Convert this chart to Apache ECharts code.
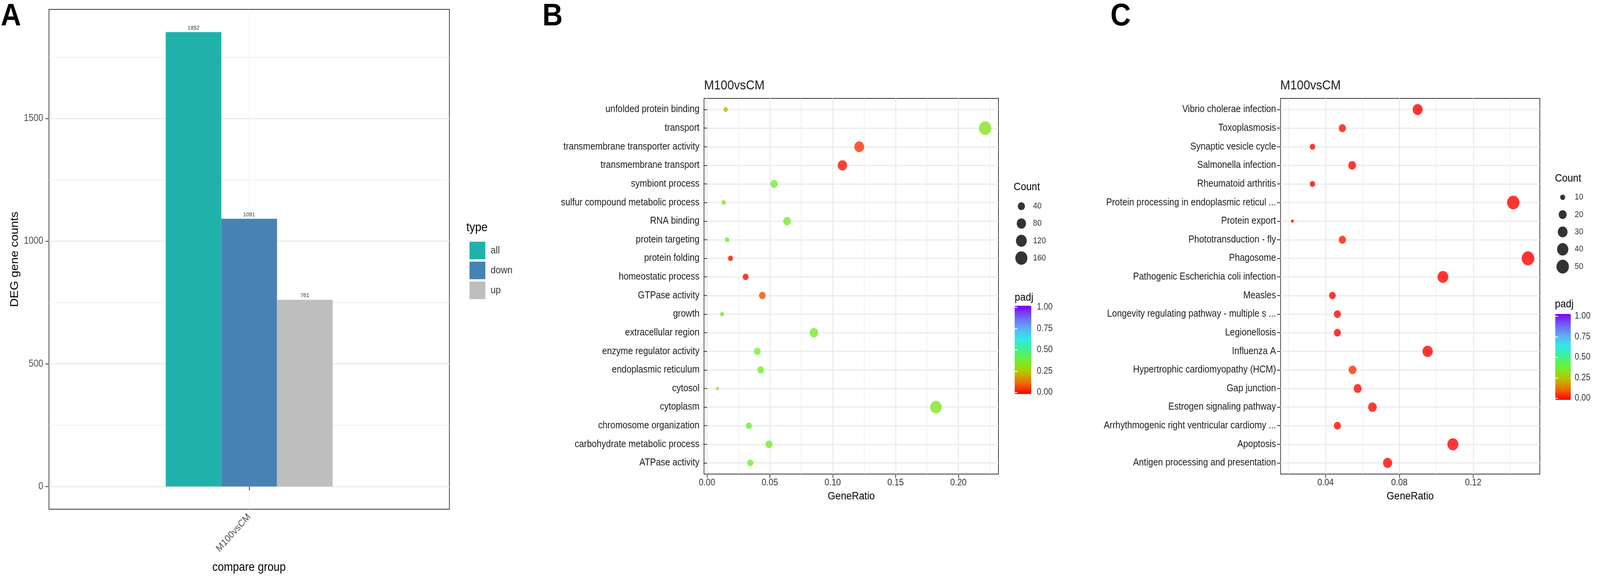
<!DOCTYPE html>
<html lang="en">
<head>
<meta charset="UTF-8">
<script src="https://cdn.jsdelivr.net/npm/echarts@6/dist/echarts.min.js"></script>
<style>
    html, body { margin: 0; padding: 0; background: #fff; overflow: hidden; }
    #main { width: 4543px; height: 1493px; transform-origin: 0 0; }
</style>
</head>
<body>
<div id="main"></div>
<script type="text/javascript">

    // ---- panel A : DEG counts ----
    const groups = ['M100vsCM'];
    const degTypes = ['all', 'down', 'up'];
    const degCounts = [1852, 1091, 761];
    const degColors = ['#20b2aa', '#4682b4', '#bebebe'];
    const degTicks = [0, 500, 1000, 1500];
    const degMinor = [250, 750, 1250, 1750];

    // ---- panel B : GO enrichment (top to bottom) ----
    const goTerms = ['unfolded protein binding', 'transport', 'transmembrane transporter activity',
        'transmembrane transport', 'symbiont process', 'sulfur compound metabolic process', 'RNA binding',
        'protein targeting', 'protein folding', 'homeostatic process', 'GTPase activity', 'growth',
        'extracellular region', 'enzyme regulator activity', 'endoplasmic reticulum', 'cytosol',
        'cytoplasm', 'chromosome organization', 'carbohydrate metabolic process', 'ATPase activity'];
    const goRatio = [0.0149, 0.2212, 0.1211, 0.1077, 0.0533, 0.0133, 0.0637, 0.0160, 0.0187, 0.0307,
        0.0440, 0.0120, 0.0851, 0.0400, 0.0427, 0.0083, 0.1821, 0.0333, 0.0493, 0.0344];
    const goCount = [11, 168, 92, 82, 41, 10, 48, 12, 14, 23, 33, 9, 65, 30, 32, 6, 138, 25, 37, 26];
    const goPadj = [0.23, 0.34, 0.06, 0.02, 0.38, 0.36, 0.36, 0.37, 0.01, 0.015, 0.09, 0.37, 0.36, 0.38,
        0.37, 0.33, 0.34, 0.38, 0.36, 0.38];
    const goTicks = [0, 0.05, 0.10, 0.15, 0.20];
    const goMinor = [0.025, 0.075, 0.125, 0.175, 0.225];
    const goSizeBreaks = [40, 80, 120, 160];

    // ---- panel C : KEGG enrichment (top to bottom) ----
    const keggTerms = ['Vibrio cholerae infection', 'Toxoplasmosis', 'Synaptic vesicle cycle',
        'Salmonella infection', 'Rheumatoid arthritis', 'Protein processing in endoplasmic reticul ...',
        'Protein export', 'Phototransduction - fly', 'Phagosome', 'Pathogenic Escherichia coli infection',
        'Measles', 'Longevity regulating pathway - multiple s ...', 'Legionellosis', 'Influenza A',
        'Hypertrophic cardiomyopathy (HCM)', 'Gap junction', 'Estrogen signaling pathway',
        'Arrhythmogenic right ventricular cardiomy ...', 'Apoptosis', 'Antigen processing and presentation'];
    const keggRatio = [0.0899, 0.0491, 0.0329, 0.0544, 0.0329, 0.1417, 0.0220, 0.0491, 0.1497, 0.1036,
        0.0437, 0.0464, 0.0464, 0.0953, 0.0546, 0.0574, 0.0654, 0.0464, 0.1090, 0.0736];
    const keggCount = [31, 17, 11, 19, 11, 49, 8, 17, 52, 36, 15, 16, 16, 33, 19, 20, 23, 16, 38, 26];
    const keggPadj = [0.002, 0.02, 0.01, 0.01, 0.005, 0.001, 0.01, 0.03, 0.001, 0.003, 0.01, 0.01, 0.01,
        0.005, 0.06, 0.015, 0.015, 0.01, 0.005, 0.01];
    const keggTicks = [0.04, 0.08, 0.12];
    const keggMinor = [0.02, 0.06, 0.10, 0.14];
    const keggSizeBreaks = [10, 20, 30, 40, 50];

    const padjColors = ['#ff0000', '#f26b00', '#b3c800', '#70f030', '#40f08a', '#30eaea', '#60aaf5', '#7060f5', '#8000ff'];

    const FONT = '"Liberation Sans", Arial, Helvetica, sans-serif';

    // the layout is drawn at 4543 wide; squeeze it if the window is narrower
    const box = document.getElementById('main');
    const sx = Math.min(1, window.innerWidth / 4543);
    if (sx < 1) {
        box.style.transform = 'scaleX(' + sx + ')';
    }

    // ggplot style 5% expansion
    function padRange(vals) {
        let lo = Math.min.apply(null, vals), hi = Math.max.apply(null, vals), r = hi - lo;
        return [lo - 0.05 * r, hi + 0.05 * r];
    }

    // area scale like scale_size
    function sizeScale(counts, dMin, dMax) {
        let lo = Math.min.apply(null, counts), hi = Math.max.apply(null, counts);
        return function (c) {
            return dMin + (dMax - dMin) * Math.sqrt(Math.max(0, (c - lo) / (hi - lo)));
        };
    }

    const degRange = padRange([0].concat(degCounts));
    const goRange = padRange(goRatio);
    const keggRange = padRange(keggRatio);
    const goSize = sizeScale(goCount, 8, 35);
    const keggSize = sizeScale(keggCount, 8, 36);
    const rows = goTerms.map(function (d, i) { return i + 1; });

    const tickStyle = {show: true, length: 10, lineStyle: {color: '#333', width: 2}};
    const noLine = {show: false};

    function gridLines(w) {
        return {show: true, lineStyle: {color: '#ebebeb', width: w}};
    }

    // value axis that only draws minor grid lines
    function minorAxis(grid, range, values, pos) {
        return {
            type: 'value', gridIndex: grid, position: pos, min: range[0], max: range[1],
            axisLine: noLine, axisLabel: {show: false},
            axisTick: {show: false, customValues: values},
            splitLine: gridLines(1.5)
        };
    }

    function ratioAxis(grid, range, ticks) {
        return {
            type: 'value', gridIndex: grid, position: 'bottom', min: range[0], max: range[1],
            axisLine: noLine,
            axisTick: Object.assign({customValues: ticks}, tickStyle),
            axisLabel: {
                customValues: ticks, margin: 10, fontSize: 24, color: '#333', fontFamily: FONT,
                formatter: function (v) { return v.toFixed(2); }
            },
            splitLine: gridLines(3)
        };
    }

    function termAxis(grid, terms) {
        return {
            type: 'value', gridIndex: grid, inverse: true, min: 0.4, max: terms.length + 0.6,
            axisLine: noLine,
            axisTick: Object.assign({customValues: rows}, tickStyle),
            axisLabel: {
                customValues: rows, margin: 13, fontSize: 25, color: '#1a1a1a', fontFamily: FONT,
                formatter: function (v) { return terms[Math.round(v) - 1]; }
            },
            splitLine: gridLines(3)
        };
    }

    function hiddenX(grid) {
        return {type: 'value', gridIndex: grid, min: 0, max: 1, show: false};
    }

    function sizeLegendAxis(grid, breaks, margin) {
        return {
            type: 'category', gridIndex: grid, inverse: true, position: 'right',
            data: breaks.map(String),
            axisLine: noLine, axisTick: noLine, splitLine: noLine,
            axisLabel: {margin: margin, fontSize: 22, color: '#333', fontFamily: FONT}
        };
    }

    function barLabelAxis(grid, pos, labels, margin) {
        return {
            type: 'value', gridIndex: grid, position: pos, min: 0, max: 1, interval: 0.25, z: 10,
            axisLine: noLine, splitLine: noLine,
            axisTick: {show: true, inside: true, length: 8, lineStyle: {color: '#fff', width: 2}},
            axisLabel: {
                show: labels, margin: margin, fontSize: 23, color: '#333', fontFamily: FONT,
                formatter: function (v) { return v.toFixed(2); }
            }
        };
    }

    function text(x, y, s, size, opt) {
        opt = opt || {};
        return {
            type: 'text', x: x, y: y, rotation: opt.rot || 0, z: 20,
            style: {
                text: s, fill: opt.color || '#000', align: opt.align || 'left', verticalAlign: 'middle',
                font: (opt.bold ? 'bold ' : '') + size + 'px ' + FONT
            }
        };
    }

    let myEcharts = echarts.init(box);

    const barSeries = degTypes.map(function (t, i) {
        return {
            name: t, type: 'bar', xAxisIndex: 0, yAxisIndex: 0,
            data: [degCounts[i]], barWidth: 158, barGap: '0%',
            itemStyle: {color: degColors[i]},
            label: {show: true, position: 'top', distance: 3, fontSize: 15, color: '#333', fontFamily: FONT}
        };
    });

    let option = {
        backgroundColor: '#fff',
        animation: false,
        textStyle: {fontFamily: FONT},
        grid: [
            {left: 139, top: 24, width: 1137, height: 1280, show: true, borderColor: '#333', borderWidth: 2},
            {left: 1999, top: 252, width: 836, height: 962, show: true, borderColor: '#333', borderWidth: 2},
            {left: 3636, top: 252, width: 736, height: 962, show: true, borderColor: '#333', borderWidth: 2},
            {left: 2878, top: 506, width: 44, height: 177},
            {left: 4415, top: 483, width: 44, height: 222},
            {left: 2881, top: 787, width: 47, height: 218},
            {left: 4416, top: 810, width: 44, height: 210}
        ],
        xAxis: [
            {
                type: 'category', gridIndex: 0, data: groups,
                axisLine: noLine,
                axisTick: Object.assign({alignWithLabel: true}, tickStyle),
                axisLabel: {rotate: 45, margin: 16, fontSize: 25, color: '#4d4d4d', fontFamily: FONT},
                splitLine: noLine
            },
            minorAxis(0, [0.4, 1.6], [1], 'top'),
            ratioAxis(1, goRange, goTicks),
            minorAxis(1, goRange, goMinor, 'top'),
            ratioAxis(2, keggRange, keggTicks),
            minorAxis(2, keggRange, keggMinor, 'top'),
            hiddenX(3), hiddenX(4), hiddenX(5), hiddenX(6)
        ],
        yAxis: [
            {
                type: 'value', gridIndex: 0, min: degRange[0], max: degRange[1],
                axisLine: noLine,
                axisTick: Object.assign({customValues: degTicks}, tickStyle),
                axisLabel: {
                    customValues: degTicks, margin: 16, fontSize: 25, color: '#4d4d4d', fontFamily: FONT,
                    formatter: function (v) { return String(v); }
                },
                splitLine: gridLines(3)
            },
            minorAxis(0, degRange, degMinor, 'right'),
            termAxis(1, goTerms),
            termAxis(2, keggTerms),
            sizeLegendAxis(3, goSizeBreaks, 11),
            sizeLegendAxis(4, keggSizeBreaks, 12),
            barLabelAxis(5, 'right', true, 16),
            barLabelAxis(5, 'left', false, 0),
            barLabelAxis(6, 'right', true, 11),
            barLabelAxis(6, 'left', false, 0)
        ],
        legend: {
            left: 1328, top: 614, orient: 'vertical', icon: 'rect',
            itemWidth: 45, itemHeight: 45, itemGap: 6,
            data: degTypes,
            textStyle: {fontSize: 26, color: '#333', fontFamily: FONT, padding: [0, 0, 0, 10]}
        },
        visualMap: [
            {
                type: 'continuous', seriesIndex: 3, dimension: 3, min: 0, max: 1,
                inRange: {color: padjColors}, calculable: false, hoverLink: false,
                left: 2881, top: 783, itemWidth: 47, itemHeight: 226, padding: 0, z: 4
            },
            {
                type: 'continuous', seriesIndex: 4, dimension: 3, min: 0, max: 1,
                inRange: {color: padjColors}, calculable: false, hoverLink: false,
                left: 4416, top: 804, itemWidth: 44, itemHeight: 220, padding: 0, z: 4
            }
        ],
        series: barSeries.concat([
            {
                type: 'scatter', xAxisIndex: 2, yAxisIndex: 2,
                data: goRatio.map(function (r, i) { return [r, i + 1, goCount[i], goPadj[i]]; }),
                symbolSize: function (v) { return goSize(v[2]); }
            },
            {
                type: 'scatter', xAxisIndex: 4, yAxisIndex: 3,
                data: keggRatio.map(function (r, i) { return [r, i + 1, keggCount[i], keggPadj[i]]; }),
                symbolSize: function (v) { return keggSize(v[2]); }
            },
            {
                type: 'scatter', xAxisIndex: 6, yAxisIndex: 4, itemStyle: {color: '#000'},
                data: goSizeBreaks.map(function (c) { return [0.5, String(c), c]; }),
                symbolSize: function (v) { return goSize(v[2]); }
            },
            {
                type: 'scatter', xAxisIndex: 7, yAxisIndex: 5, itemStyle: {color: '#000'},
                data: keggSizeBreaks.map(function (c) { return [0.5, String(c), c]; }),
                symbolSize: function (v) { return keggSize(v[2]); }
            }
        ]),
        graphic: [
            text(2, 43, 'A', 80, {bold: true}),
            text(1540, 43, 'B', 80, {bold: true}),
            text(3153, 43, 'C', 80, {bold: true}),
            text(42, 664, 'DEG gene counts', 31, {rot: Math.PI / 2, align: 'center'}),
            text(707, 1453, 'compare group', 31, {align: 'center'}),
            text(1324, 583, 'type', 32),
            text(1999, 220, 'M100vsCM', 34, {color: '#1a1a1a'}),
            text(3635, 220, 'M100vsCM', 34, {color: '#1a1a1a'}),
            text(2417, 1271, 'GeneRatio', 28, {align: 'center'}),
            text(4004, 1271, 'GeneRatio', 28, {align: 'center'}),
            text(2878, 479, 'Count', 28),
            text(4415, 457, 'Count', 28),
            text(2881, 762, 'padj', 28),
            text(4415, 779, 'padj', 28)
        ]
    };

    myEcharts.setOption(option);

</script>
</body>
</html>
